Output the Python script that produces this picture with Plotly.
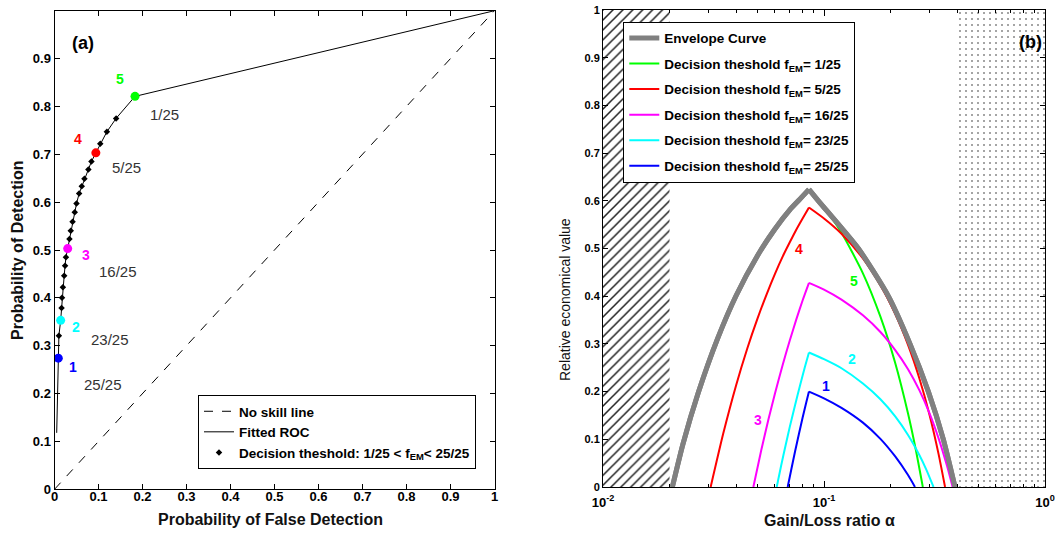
import math
import plotly.graph_objects as go

# ---------------- Panel (a): ROC data ----------------
roc_far = [0.0086, 0.010, 0.014, 0.016, 0.017, 0.019, 0.022, 0.024, 0.026, 0.030,
           0.034, 0.037, 0.041, 0.046, 0.050, 0.056, 0.062, 0.068, 0.077, 0.084,
           0.094, 0.104, 0.119, 0.140, 0.183]
roc_pod = [0.274, 0.321, 0.353, 0.379, 0.400, 0.422, 0.446, 0.467, 0.485, 0.503,
           0.523, 0.540, 0.559, 0.579, 0.597, 0.618, 0.633, 0.649, 0.668, 0.685,
           0.703, 0.722, 0.747, 0.775, 0.821]
fit_head_far, fit_head_pod = [0.005], [0.118]
fit_tail_far, fit_tail_pod = [1.0], [1.0]
noskill = [0.0, 1.0]

hl_numbers = ["1", "2", "3", "4", "5"]
hl_fractions = ["25/25", "23/25", "16/25", "5/25", "1/25"]
hl_index = [0, 2, 9, 20, 24]
hl_colors = ["#0000FF", "#00FFFF", "#FF00FF", "#FF0000", "#00FF00"]
hl_num_pos = [(0.043, 0.256), (0.049, 0.340), (0.072, 0.490), (0.054, 0.731), (0.149, 0.858)]
hl_frac_pos = [(0.111, 0.220), (0.125, 0.312), (0.145, 0.455), (0.163, 0.673), (0.251, 0.783)]

# ---------------- Panel (b): economic value curves ----------------
peak_alpha = 0.0855

env_alpha = [0.0206, 0.023, 0.027, 0.033, 0.040, 0.050, 0.060, 0.070, 0.078, 0.0855,
             0.0943, 0.143, 0.1955, 0.2449, 0.2966, 0.3467, 0.3916]
env_value = [0.0, 0.090, 0.198, 0.311, 0.401, 0.485, 0.541, 0.581, 0.604, 0.624,
             0.600, 0.500, 0.400, 0.300, 0.200, 0.100, 0.0]

g_alpha = [0.0206, 0.023, 0.027, 0.033, 0.040, 0.050, 0.060, 0.070, 0.078, 0.0855,
           0.10, 0.12, 0.15, 0.18, 0.21, 0.24, 0.26, 0.28]
g_value = [0.0, 0.090, 0.198, 0.311, 0.401, 0.485, 0.541, 0.581, 0.604, 0.623,
           0.586, 0.533, 0.448, 0.357, 0.260, 0.154, 0.079, 0.0]

r_alpha = [0.0307, 0.035, 0.040, 0.045, 0.050, 0.055, 0.060, 0.065, 0.070, 0.075, 0.080, 0.0855,
           0.10, 0.12, 0.15, 0.18, 0.21, 0.24, 0.27, 0.30, 0.33, 0.353]
r_value = [0.0, 0.112, 0.213, 0.291, 0.353, 0.404, 0.447, 0.483, 0.513, 0.540, 0.563, 0.586,
           0.563, 0.531, 0.479, 0.423, 0.363, 0.298, 0.228, 0.152, 0.069, 0.0]

m_alpha = [0.0479, 0.052, 0.056, 0.060, 0.065, 0.070, 0.075, 0.080, 0.0855,
           0.10, 0.12, 0.15, 0.18, 0.21, 0.24, 0.27, 0.30, 0.33, 0.36, 0.382]
m_value = [0.0, 0.077, 0.141, 0.196, 0.256, 0.307, 0.352, 0.391, 0.428,
           0.414, 0.393, 0.360, 0.325, 0.287, 0.247, 0.203, 0.155, 0.102, 0.045, 0.0]

c_alpha = [0.0611, 0.064, 0.067, 0.070, 0.074, 0.078, 0.082, 0.0855,
           0.10, 0.12, 0.15, 0.18, 0.21, 0.24, 0.27, 0.29, 0.313]
c_value = [0.0, 0.045, 0.087, 0.126, 0.172, 0.214, 0.252, 0.282,
           0.268, 0.249, 0.217, 0.184, 0.148, 0.109, 0.067, 0.037, 0.0]

b_alpha = [0.0685, 0.071, 0.074, 0.077, 0.080, 0.083, 0.0855,
           0.10, 0.12, 0.15, 0.18, 0.21, 0.24, 0.258]
b_value = [0.0, 0.035, 0.075, 0.111, 0.145, 0.176, 0.200,
           0.186, 0.166, 0.135, 0.101, 0.064, 0.025, 0.0]

hatch_span = [0.01, 0.02]
dots_span = [0.4, 1.0]

curve_names = ["1/25", "5/25", "16/25", "23/25", "25/25"]
curve_colors = ["#00FF00", "#FF0000", "#FF00FF", "#00FFFF", "#0000FF"]
curve_data = [(g_alpha, g_value), (r_alpha, r_value), (m_alpha, m_value),
              (c_alpha, c_value), (b_alpha, b_value)]
curve_labels = ["5", "4", "3", "2", "1"]
curve_label_pos = [(0.1368, 0.432), (0.0773, 0.499), (0.0505, 0.140), (0.1343, 0.268), (0.1021, 0.212)]

W, H = 1055, 533
def fx(px): return px / W
def fy(py): return 1 - py / H


def split_at_peak(xs, ys):
    """Left and right branches as separate line segments (sharp cusp at the peak)."""
    k = xs.index(peak_alpha)
    return xs[:k + 1] + [None] + xs[k:], ys[:k + 1] + [None] + ys[k:]


fig = go.Figure()

# ---- panel (a) ----
fig.add_trace(go.Scatter(x=noskill, y=noskill, mode="lines",
                         line=dict(color="black", width=1, dash="dash"),
                         name="<b>No skill line</b>", xaxis="x", yaxis="y", legend="legend"))
fig.add_trace(go.Scatter(x=fit_head_far + roc_far + fit_tail_far,
                         y=fit_head_pod + roc_pod + fit_tail_pod, mode="lines",
                         line=dict(color="black", width=1),
                         name="<b>Fitted ROC</b>", xaxis="x", yaxis="y", legend="legend"))
fig.add_trace(go.Scatter(x=roc_far, y=roc_pod, mode="markers",
                         marker=dict(color="black", size=5, symbol="diamond"),
                         name="<b>Decision theshold: 1/25 &lt; f<sub>EM</sub>&lt; 25/25</b>",
                         xaxis="x", yaxis="y", legend="legend"))
for i, idx in enumerate(hl_index):
    fig.add_trace(go.Scatter(x=[roc_far[idx]], y=[roc_pod[idx]], mode="markers",
                             marker=dict(color=hl_colors[i], size=9, symbol="circle"),
                             showlegend=False, xaxis="x", yaxis="y"))

annotations = []
for i in range(5):
    annotations.append(dict(x=hl_num_pos[i][0], y=hl_num_pos[i][1], xref="x", yref="y",
                            xanchor="center", yanchor="middle",
                            text="<b>%s</b>" % hl_numbers[i], showarrow=False,
                            font=dict(family="Arial", size=14, color=hl_colors[i])))
    annotations.append(dict(x=hl_frac_pos[i][0], y=hl_frac_pos[i][1], xref="x", yref="y",
                            xanchor="center", yanchor="middle",
                            text=hl_fractions[i], showarrow=False,
                            font=dict(family="Arial", size=15, color="#333333")))

# ---- panel (b) ----
fig.add_trace(go.Scatter(x=[hatch_span[0], hatch_span[1], hatch_span[1], hatch_span[0], hatch_span[0]],
                         y=[0, 0, 1, 1, 0], mode="lines", fill="toself",
                         line=dict(width=0, color="rgba(0,0,0,0)"),
                         fillpattern=dict(shape="/", fgcolor="#222222", bgcolor="white",
                                          size=7, solidity=0.22),
                         showlegend=False, hoverinfo="skip", xaxis="x2", yaxis="y2"))
fig.add_trace(go.Scatter(x=[dots_span[0], dots_span[1], dots_span[1], dots_span[0], dots_span[0]],
                         y=[0, 0, 1, 1, 0], mode="lines", fill="toself",
                         line=dict(width=0, color="rgba(0,0,0,0)"),
                         fillpattern=dict(shape=".", fgcolor="#333333", bgcolor="white",
                                          size=6, solidity=0.06),
                         showlegend=False, hoverinfo="skip", xaxis="x2", yaxis="y2"))

ex, ey = split_at_peak(env_alpha, env_value)
fig.add_trace(go.Scatter(x=ex, y=ey, mode="lines",
                         line=dict(color="#808080", width=5, shape="spline", smoothing=0.6),
                         name="<b>Envelope Curve</b>", legendrank=1, legendgroup="env",
                         xaxis="x2", yaxis="y2", legend="legend2"))
for i, (ax, av) in enumerate(curve_data):
    cx, cy = split_at_peak(ax, av)
    fig.add_trace(go.Scatter(x=cx, y=cy, mode="lines",
                             line=dict(color=curve_colors[i], width=2, shape="spline", smoothing=0.6),
                             name="<b>Decision theshold f<sub>EM</sub>= %s</b>" % curve_names[i],
                             legendrank=2 + i, legendgroup="c%d" % i,
                             xaxis="x2", yaxis="y2", legend="legend2"))
# envelope redrawn on top (as in reference), not in legend
fig.add_trace(go.Scatter(x=ex, y=ey, mode="lines",
                         line=dict(color="#808080", width=5, shape="spline", smoothing=0.6),
                         showlegend=False, xaxis="x2", yaxis="y2"))

for i in range(5):
    annotations.append(dict(x=math.log10(curve_label_pos[i][0]), y=curve_label_pos[i][1],
                            xref="x2", yref="y2", xanchor="center", yanchor="middle",
                            text="<b>%s</b>" % curve_labels[i], showarrow=False,
                            font=dict(family="Arial", size=14, color=curve_colors[i])))

annotations += [
    dict(x=fx(83), y=fy(43), text="<b>(a)</b>", font=dict(family="Arial", size=18, color="black")),
    dict(x=fx(1030), y=fy(42), text="<b>(b)</b>", font=dict(family="Arial", size=18, color="black")),
    dict(x=fx(270), y=fy(519), text="<b>Probability of False Detection</b>",
         font=dict(family="Arial", size=16, color="#111")),
    dict(x=fx(17), y=fy(250), text="<b>Probability of Detection</b>", textangle=-90,
         font=dict(family="Arial", size=16, color="#111")),
    dict(x=fx(829), y=fy(520), text="<b>Gain/Loss ratio α</b>",
         font=dict(family="Arial", size=16, color="#111")),
    dict(x=fx(565), y=fy(300), text="Relative economical value", textangle=-90,
         font=dict(family="Arial", size=14, color="#111")),
]
for a in annotations[-6:]:
    a.update(xref="paper", yref="paper", showarrow=False, xanchor="center", yanchor="middle")

axis_common = dict(showgrid=False, zeroline=False, showline=True, linecolor="black", linewidth=1,
                   mirror="ticks", ticks="inside", tickcolor="black", automargin=False,
                   ticklabeloverflow="allow")

left_ticks = [round(0.1 * k, 1) for k in range(11)]
left_ticktext = ["0", "0.1", "0.2", "0.3", "0.4", "0.5", "0.6", "0.7", "0.8", "0.9", "1"]

fig.update_layout(
    template="none",
    width=W, height=H,
    margin=dict(l=0, r=0, t=0, b=0),
    paper_bgcolor="white", plot_bgcolor="white",
    showlegend=True,
    hovermode=False,
    xaxis=dict(domain=[fx(54.5), fx(494.5)], range=[0, 1], anchor="y",
               tickvals=left_ticks, ticktext=left_ticktext, ticklen=5, ticklabelstandoff=-5,
               tickfont=dict(family="Arial", size=13, color="black", weight="bold"), **axis_common),
    yaxis=dict(domain=[fy(489.3), fy(10.7)], range=[0, 1], anchor="x",
               tickvals=left_ticks[:10], ticktext=left_ticktext[:10], ticklen=5,
               tickfont=dict(family="Arial", size=13, color="black", weight="bold"), **axis_common),
    xaxis2=dict(domain=[fx(603), fx(1045)], type="log", range=[-2, 0], anchor="y2",
                tickvals=[0.01, 0.1, 1], ticktext=["10<sup>-2</sup>", "10<sup>-1</sup>", "10<sup>0</sup>"],
                ticklen=6, ticklabelstandoff=3,
                minor=dict(tickvals=[0.02, 0.03, 0.04, 0.05, 0.06, 0.07, 0.08, 0.09,
                                     0.2, 0.3, 0.4, 0.5, 0.6, 0.7, 0.8, 0.9],
                           ticks="inside", ticklen=3, tickcolor="black"),
                tickfont=dict(family="Arial", size=13, color="black", weight="bold"), **axis_common),
    yaxis2=dict(domain=[fy(487), fy(10)], range=[0, 1], anchor="x2",
                tickvals=left_ticks, ticktext=left_ticktext, ticklen=5,
                tickfont=dict(family="Arial", size=11, color="black", weight="bold"), **axis_common),
    legend=dict(x=fx(476), y=fy(469), xanchor="right", yanchor="bottom",
                bgcolor="white", bordercolor="black", borderwidth=1,
                font=dict(family="Arial", size=13.5, color="black")),
    legend2=dict(x=fx(623.3), y=fy(21.7), xanchor="left", yanchor="top",
                 bgcolor="white", bordercolor="black", borderwidth=1, tracegroupgap=5,
                 font=dict(family="Arial", size=13.5, color="black")),
    annotations=annotations,
)

# remove the default 8px page margin so the figure sits at the window origin
fig.write_html("out.html", config={"displayModeBar": False, "staticPlot": True},
               post_script="document.body.style.margin='0px';document.body.style.overflow='hidden';")
